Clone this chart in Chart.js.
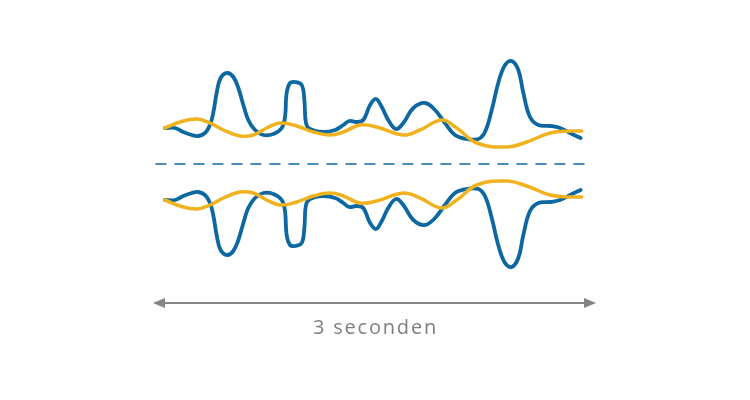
<!DOCTYPE html>
<html>
<head>
<meta charset="utf-8">
<script src="https://cdn.jsdelivr.net/npm/chart.js@4/dist/chart.umd.min.js"></script>
<style>
html,body{margin:0;padding:0;background:#fff;}
#wrap{width:750px;height:400px;}
</style>
</head>
<body>
<div id="wrap"><canvas id="c" width="750" height="400"></canvas></div>
<script>
// time in milliseconds (the arrow spans 3 seconds)
const blueX = [81,149,205,262,307,352,386,408,431,458,503,544,578,612,645,691,747,815,872,894,905,928,962,1007,1025,1036,1063,1151,1233,1289,1329,1379,1424,1470,1510,1549,1593,1646,1695,1763,1842,1910,1977,2045,2124,2203,2248,2294,2338,2384,2429,2474,2508,2553,2609,2689,2756,2824,2896];
const blueTopY = [36,36,32,29,28,31,39,51,71,86,91,87,76,59,44,34,29,30,36,47,71,81,82,79,64,41,35,32,34,39,43,42,44,59,65,57,44,35,41,56,61,54,41,29,25,25,32,54,81,99,103,94,71,47,39,38,36,31,26];
const blueBottomY = [-36,-36,-32,-29,-28,-31,-39,-51,-71,-86,-91,-87,-76,-59,-44,-34,-29,-30,-36,-47,-71,-81,-82,-79,-64,-41,-35,-32,-34,-39,-43,-42,-44,-59,-65,-57,-44,-35,-41,-56,-61,-54,-41,-29,-25,-25,-32,-54,-81,-99,-103,-94,-71,-47,-39,-38,-36,-31,-26];
const yellowX = [81,183,296,386,476,589,679,770,860,973,1086,1199,1289,1402,1515,1695,1808,1955,2057,2192,2395,2531,2689,2824,2903];
const yellowTopY = [36,42,45,41,34,28,29,36,41,38,32,29,32,39,37,29,34,44,36,21,17,22,31,33,33];
const yellowBottomY = [-36,-42,-45,-41,-34,-28,-29,-36,-41,-38,-32,-29,-32,-39,-37,-29,-34,-44,-36,-21,-17,-22,-31,-33,-33];
const midLineX = [20,2925];
const midLineY = [0,0];
const spanLabel = "3 seconden";
const spanStart = 0, spanEnd = 3000;

const BLUE = "#0d67a0";
const YELLOW = "#f0b21f";
const GREY = "#858585";

function pts(xs, ys){ return xs.map((x,i)=>({x:x,y:ys[i]})); }

const arrowPlugin = {
  id:'arrowPlugin',
  afterDraw(chart){
    const ctx = chart.ctx;
    const xs = chart.scales.x;
    const x0 = xs.getPixelForValue(spanStart);
    const x1 = xs.getPixelForValue(spanEnd);
    const y = 303;
    ctx.save();
    ctx.strokeStyle = GREY;
    ctx.fillStyle = GREY;
    ctx.lineWidth = 2;
    ctx.beginPath();
    ctx.moveTo(x0+8,y); ctx.lineTo(x1-8,y); ctx.stroke();
    ctx.beginPath();
    ctx.moveTo(x0,y); ctx.lineTo(x0+12,y-5); ctx.lineTo(x0+12,y+5); ctx.closePath(); ctx.fill();
    ctx.beginPath();
    ctx.moveTo(x1,y); ctx.lineTo(x1-12,y-5); ctx.lineTo(x1-12,y+5); ctx.closePath(); ctx.fill();
    ctx.font = '20px "Open Sans", "Noto Sans", sans-serif';
    try { ctx.letterSpacing = '1.8px'; } catch(e) {}
    ctx.fillStyle = "#7f7f7f";
    ctx.textAlign = "center";
    ctx.textBaseline = "alphabetic";
    ctx.fillText(spanLabel, (x0+x1)/2 + 1, 334);
    ctx.restore();
  }
};

new Chart(document.getElementById('c'), {
  type:'line',
  data:{
    datasets:[
      {data:pts(midLineX, midLineY), borderColor:BLUE, borderWidth:1.5, borderDash:[10,9], pointRadius:0, tension:0},
      {data:pts(yellowX, yellowTopY), borderColor:YELLOW, borderWidth:3.5, pointRadius:0, tension:0.4},
      {data:pts(yellowX, yellowBottomY), borderColor:YELLOW, borderWidth:3.5, pointRadius:0, tension:0.4},
      {data:pts(blueX, blueTopY), borderColor:BLUE, borderWidth:3.8, pointRadius:0, tension:0.4},
      {data:pts(blueX, blueBottomY), borderColor:BLUE, borderWidth:3.8, pointRadius:0, tension:0.4}
    ]
  },
  options:{
    responsive:false,
    animation:false,
    devicePixelRatio:1,
    layout:{padding:{left:153,right:154,top:14,bottom:86}},
    plugins:{legend:{display:false},tooltip:{enabled:false}},
    scales:{
      x:{type:'linear',min:0,max:3000,display:false},
      y:{min:-150,max:150,display:false}
    },
    elements:{line:{borderCapStyle:'round',borderJoinStyle:'round'}},
    clip:false
  },
  plugins:[arrowPlugin]
});
</script>
</body>
</html>
